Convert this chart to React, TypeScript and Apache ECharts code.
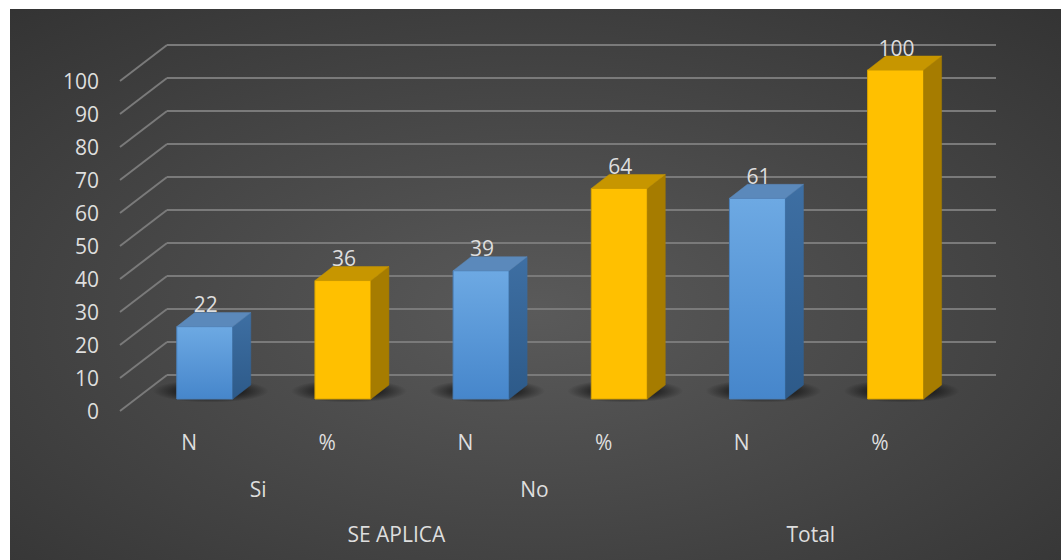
import React, { useEffect, useRef } from "react";
import * as echarts from "echarts";

// ---- data ----
const categories = ["N", "%", "N", "%", "N", "%"];
const values = [22, 36, 39, 64, 61, 100];
const level2Labels: Record<number, string> = { 1: "Si", 3: "No" };
const level3Labels: Record<number, string> = { 2: "SE APLICA", 5: "Total" };
const yTicks = [0, 10, 20, 30, 40, 50, 60, 70, 80, 90, 100];

// ---- style ----
const FONT = '"Open Sans", "Noto Sans", sans-serif';
const FS = 21;
const TEXT = "#dedede";
const GRID_COLOR = "#7a7a7a";
const FRONT = { left: 120, top: 81, width: 829, height: 330 };
const BACK = { left: 167, top: 45, width: 829, height: 330 };
const BARS = { left: 135.7, top: 70, width: 829, height: 329 };
const DX = BACK.left - FRONT.left;
const DY = BACK.top - FRONT.top;
const BAR_W = 56;
const BAR_DX = 18;
const BAR_DY = -14;

const palette: Record<string, any> = {
  N: {
    front: { type: "linear", x: 0, y: 0, x2: 0, y2: 1, colorStops: [{ offset: 0, color: "#6da9e3" }, { offset: 1, color: "#4686cb" }] },
    side: { type: "linear", x: 0, y: 0, x2: 0, y2: 1, colorStops: [{ offset: 0, color: "#3e6fa3" }, { offset: 1, color: "#2d5a89" }] },
    top: "#5b89bb",
    stroke: "#4a80ba",
  },
  "%": {
    front: "#ffc000",
    side: "#a67c00",
    top: "#c79600",
    stroke: "#d9a400",
  },
};

export default function App() {
  const ref = useRef<HTMLDivElement>(null);
  useEffect(() => {
    if (!ref.current) return;
    const chart = echarts.init(ref.current, undefined, { renderer: "svg" });
    const labelStyle = { color: TEXT, fontSize: FS, fontFamily: FONT };
    chart.setOption({
      animation: false,
      backgroundColor: "#ffffff",
      graphic: [
        {
          type: "rect",
          z: -10,
          silent: true,
          shape: { x: 10, y: 9, width: 1051, height: 551 },
          style: {
            fill: {
              type: "radial",
              x: 0.5,
              y: 0.55,
              r: 1.05,
              colorStops: [
                { offset: 0, color: "#5a5a5a" },
                { offset: 0.55, color: "#3c3c3c" },
                { offset: 1, color: "#242424" },
              ],
            },
          },
        },
      ],
      grid: [
        { ...BACK, containLabel: false },
        { ...FRONT, containLabel: false },
        { ...BARS, containLabel: false },
      ],
      xAxis: [
        { type: "category", gridIndex: 0, data: categories, show: false },
        {
          type: "category",
          gridIndex: 1,
          data: categories,
          axisLine: { show: false },
          axisTick: { show: false },
          axisLabel: { ...labelStyle, margin: 20 },
        },
        {
          type: "value",
          gridIndex: 1,
          min: 0,
          max: categories.length,
          interval: 1,
          position: "bottom",
          offset: 47,
          axisLine: { show: false },
          axisTick: { show: false },
          splitLine: { show: false },
          axisLabel: { ...labelStyle, margin: 20, formatter: (v: number) => level2Labels[v] || "" },
        },
        {
          type: "value",
          gridIndex: 1,
          min: 0,
          max: categories.length,
          interval: 1,
          position: "bottom",
          offset: 92,
          axisLine: { show: false },
          axisTick: { show: false },
          splitLine: { show: false },
          axisLabel: { ...labelStyle, margin: 20, formatter: (v: number) => level3Labels[v] || "" },
        },
        { type: "category", gridIndex: 2, data: categories, show: false },
      ],
      yAxis: [
        {
          type: "value",
          gridIndex: 0,
          min: 0,
          max: 100,
          interval: 10,
          axisLine: { show: false },
          axisTick: { show: false },
          axisLabel: { show: false },
          splitLine: { show: true, lineStyle: { color: GRID_COLOR, width: 2 } },
        },
        {
          type: "value",
          gridIndex: 1,
          min: 0,
          max: 100,
          interval: 10,
          axisLine: { show: false },
          axisTick: { show: false },
          splitLine: { show: false },
          axisLabel: { ...labelStyle, margin: 21 },
        },
        { type: "value", gridIndex: 2, min: 0, max: 100, interval: 10, show: false, splitLine: { show: false } },
      ],
      series: [
        {
          type: "custom",
          xAxisIndex: 1,
          yAxisIndex: 1,
          silent: true,
          data: yTicks.map((v) => [0, v]),
          renderItem: (params: any, api: any) => {
            const cs = params.coordSys;
            const y = api.coord([0, api.value(1)])[1];
            return {
              type: "line",
              shape: { x1: cs.x, y1: y, x2: cs.x + DX, y2: y + DY },
              style: { stroke: GRID_COLOR, lineWidth: 2 },
            };
          },
        },
        {
          type: "custom",
          xAxisIndex: 4,
          yAxisIndex: 2,
          silent: true,
          data: values.map((v, i) => [i, v]),
          renderItem: (params: any, api: any) => {
            const idx = api.value(0);
            const v = api.value(1);
            const [cx, top] = api.coord([idx, v]);
            const bottom = api.coord([idx, 0])[1];
            const c = palette[categories[idx]];
            const l = cx - BAR_W / 2;
            const r = cx + BAR_W / 2;
            return {
              type: "group",
              children: [
                {
                  type: "group",
                  x: cx + 6,
                  y: bottom + BAR_DY / 2 - 1,
                  scaleX: 1,
                  scaleY: 0.2,
                  children: [
                    {
                      type: "circle",
                      shape: { cx: 0, cy: 0, r: 58 },
                      style: {
                        fill: {
                          type: "radial",
                          x: 0.5,
                          y: 0.5,
                          r: 0.5,
                          colorStops: [
                            { offset: 0, color: "rgba(0,0,0,0.9)" },
                            { offset: 0.5, color: "rgba(0,0,0,0.6)" },
                            { offset: 1, color: "rgba(0,0,0,0)" },
                          ],
                        },
                      },
                    },
                  ],
                },
                {
                  type: "rect",
                  shape: { x: l, y: top, width: BAR_W, height: bottom - top },
                  style: { fill: c.front, stroke: c.stroke, lineWidth: 1 },
                },
                {
                  type: "polygon",
                  shape: {
                    points: [
                      [r, top],
                      [r + BAR_DX, top + BAR_DY],
                      [r + BAR_DX, bottom + BAR_DY],
                      [r, bottom],
                    ],
                  },
                  style: { fill: c.side, stroke: c.side, lineWidth: 0.5 },
                },
                {
                  type: "polygon",
                  shape: {
                    points: [
                      [l, top],
                      [l + BAR_DX, top + BAR_DY],
                      [r + BAR_DX, top + BAR_DY],
                      [r, top],
                    ],
                  },
                  style: { fill: c.top, stroke: c.top, lineWidth: 0.5 },
                },
                {
                  type: "text",
                  x: cx + 1,
                  y: top + BAR_DY + 2,
                  style: {
                    text: String(v),
                    fill: TEXT,
                    fontSize: FS,
                    fontFamily: FONT,
                    align: "center",
                    verticalAlign: "bottom",
                  },
                },
              ],
            };
          },
        },
      ],
    });
    return () => chart.dispose();
  }, []);
  return (
    <div
      ref={ref}
      style={{ position: "fixed", left: 0, top: 0, width: 1061, height: 560 }}
    />
  );
}
